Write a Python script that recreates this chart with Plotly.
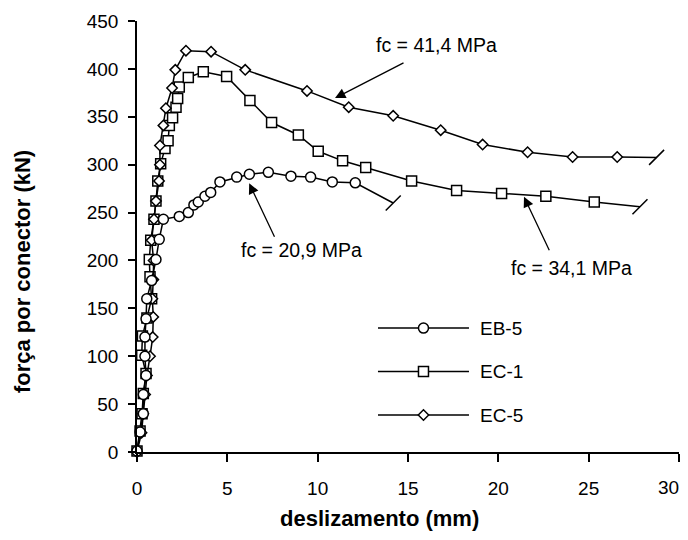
import plotly.graph_objects as go

# ---------------- data ----------------
eb5_x = [0, 0.17, 0.35, 0.35, 0.5, 0.44, 0.44, 0.5, 0.54, 0.81, 1.05, 1.23, 1.46, 2.34, 2.84,
         3.15, 3.39, 3.76, 4.08, 4.59, 5.52, 6.22, 7.27, 8.52, 9.61, 10.81, 12.08]
eb5_y = [1, 21, 40, 60, 80, 100, 120, 139, 160, 179, 201, 222, 243, 246, 250,
         258, 261, 267, 271, 282, 287, 290, 292, 288, 287, 282, 281]
eb5_end = (14.18, 260)

ec1_x = [0, 0.17, 0.28, 0.35, 0.5, 0.26, 0.3, 0.55, 0.81, 0.72, 0.68, 0.76, 0.94, 1.05, 1.15,
         1.31, 1.55, 1.72, 1.79, 1.97, 2.16, 2.25, 2.34, 2.84, 3.67, 4.96, 6.25, 7.45, 8.93,
         10.03, 11.38, 12.66, 15.2, 17.69, 20.18, 22.63, 25.31]
ec1_y = [1, 22, 40, 61, 82, 101, 121, 140, 160, 183, 201, 221, 243, 262, 283,
         301, 317, 325, 341, 349, 360, 369, 381, 391, 397, 392, 367, 344, 331,
         314, 304, 297, 283, 273, 270, 267, 261]
ec1_end = (27.84, 256)

ec5_x = [0, 0.25, 0.35, 0.45, 0.55, 0.72, 0.87, 0.9, 0.85, 0.9, 0.92, 0.81, 0.94, 1.05, 1.22,
         1.27, 1.27, 1.46, 1.6, 1.94, 2.12, 2.71, 4.10, 5.99, 9.41, 11.72, 14.18, 16.81,
         19.13, 21.62, 24.11, 26.58]
ec5_y = [0, 20, 40, 60, 80, 100, 120, 141, 160, 180, 200, 221, 243, 262, 283,
         300, 320, 341, 359, 380, 399, 419, 418, 399, 377, 360, 351, 336,
         321, 313, 308, 308]
ec5_end = (28.76, 307.6)

series_names = ["EB-5", "EC-1", "EC-5"]
x_ticks = [0, 5, 10, 15, 20, 25, 30]
x_ticktext = ["0", "5", "10", "15", "20", "25", ""]   # "30" is placed as its own label below
last_x_label = ("30", 29.4)
y_ticks = [0, 50, 100, 150, 200, 250, 300, 350, 400, 450]

# annotations: (text, text_x, text_y, tip_x, tip_y, tail_dx_px, tail_dy_px)
notes = [
    ("fc = 41,4 MPa", 16.6, 425, 10.96, 369.5, 70, -36),
    ("fc = 20,9 MPa", 9.08, 211, 6.21, 280.5, 26, 55),
    ("fc = 34,1 MPa", 24.07, 192, 21.42, 266.5, 26, 55),
]

FONT = "Liberation Sans, Arial, sans-serif"
BLACK = "black"

fig = go.Figure()


def add_series(x, y, end, symbol, size):
    xs = list(x) + [end[0]]
    ys = list(y) + [end[1]]
    n = len(x)
    fig.add_trace(go.Scatter(
        x=xs, y=ys, mode="lines+markers",
        line=dict(color=BLACK, width=1.5),
        marker=dict(symbol=[symbol] * n + ["line-ne"],
                    size=[size] * n + [15],
                    color=["#ffffff"] * n + [BLACK],
                    opacity=1,
                    line=dict(color=BLACK, width=1.5)),
        cliponaxis=False, showlegend=False, hoverinfo="skip"))


add_series(ec1_x, ec1_y, ec1_end, "square", 10)
add_series(ec5_x, ec5_y, ec5_end, "diamond", 8)
add_series(eb5_x, eb5_y, eb5_end, "circle", 10)

# custom legend on a small hidden axis pair
leg_symbols = ["circle", "square", "diamond"]
leg_sizes = [10, 10, 8]
leg_rows = [2, 1, 0]
for name, sym, sz, row in zip(series_names, leg_symbols, leg_sizes, leg_rows):
    fig.add_trace(go.Scatter(
        x=[0, 1], y=[row] * 2, mode="lines",
        line=dict(color=BLACK, width=1.5),
        xaxis="x3", yaxis="y3", cliponaxis=False, showlegend=False, hoverinfo="skip"))
    fig.add_trace(go.Scatter(
        x=[0.5], y=[row], mode="markers",
        marker=dict(symbol=sym, size=sz, color="#ffffff", opacity=1,
                    line=dict(color=BLACK, width=1.5)),
        xaxis="x3", yaxis="y3", cliponaxis=False, showlegend=False, hoverinfo="skip"))
    fig.add_annotation(x=1.1, y=row, xref="x3", yref="y3", text=name, showarrow=False,
                       xanchor="left", yanchor="middle",
                       font=dict(family=FONT, size=19, color=BLACK))

for text, tx, ty, px, py, dx, dy in notes:
    fig.add_annotation(x=tx, y=ty, xref="x", yref="y", text=text, showarrow=False,
                       xanchor="center", yanchor="middle",
                       font=dict(family=FONT, size=19.5, color=BLACK))
    fig.add_annotation(x=px, y=py, xref="x", yref="y", text="", showarrow=True,
                       ax=dx, ay=dy, arrowhead=2, arrowsize=1.6, arrowwidth=1.3,
                       arrowcolor=BLACK, standoff=0)

# last x tick label (sits a little left of its tick, as in the original)
fig.add_annotation(x=last_x_label[1], y=-0.0835, xref="x", yref="paper", text=last_x_label[0],
                   showarrow=False, xanchor="center", yanchor="middle",
                   font=dict(family=FONT, size=19, color=BLACK))

# axis titles
fig.add_annotation(x=0.4483, y=-0.1875, xref="paper", yref="paper", text="<b>deslizamento (mm)</b>",
                   showarrow=False, xanchor="center", yanchor="bottom",
                   font=dict(family=FONT, size=22, color=BLACK))
fig.add_annotation(x=-0.2122, y=0.4197, xref="paper", yref="paper", text="<b>força por conector (kN)</b>",
                   showarrow=False, xanchor="center", yanchor="middle", textangle=-90,
                   font=dict(family=FONT, size=22, color=BLACK))

axis_common = dict(showgrid=False, zeroline=False, linecolor=BLACK, tickcolor=BLACK,
                   tickwidth=1.5, linewidth=1.5, automargin=False)

# page body has an 8px margin, so the figure is drawn 8px in from the window corner
fig.update_layout(
    width=672, height=524,
    margin=dict(l=129, r=1, t=13, b=80, autoexpand=False),
    paper_bgcolor="white", plot_bgcolor="white",
    font=dict(family=FONT, size=19, color=BLACK),
    xaxis=dict(range=[0, 30], tickvals=x_ticks, ticktext=x_ticktext,
               showline=True, ticks="outside", ticklen=8, ticklabelstandoff=10,
               **axis_common),
    yaxis=dict(range=[0, 450], tickvals=y_ticks, ticktext=[str(v) for v in y_ticks],
               showline=True, ticks="outside", ticklen=7, ticklabelstandoff=6,
               **axis_common),
    xaxis2=dict(range=[0, 30], overlaying="x", anchor="y", side="bottom", tickvals=x_ticks,
                showticklabels=False, showline=False, ticks="inside", ticklen=8,
                **axis_common),
    yaxis2=dict(range=[0, 450], overlaying="y", anchor="x", side="left", tickvals=y_ticks,
                showticklabels=False, showline=False, ticks="inside", ticklen=8,
                **axis_common),
    xaxis3=dict(domain=[0.4278, 0.6293], range=[-0.1, 1.1], anchor="y3", visible=False),
    yaxis3=dict(domain=[0.0354, 0.3379], range=[-0.5, 2.5], anchor="x3", visible=False),
    showlegend=False,
)

fig.write_html("out.html")
